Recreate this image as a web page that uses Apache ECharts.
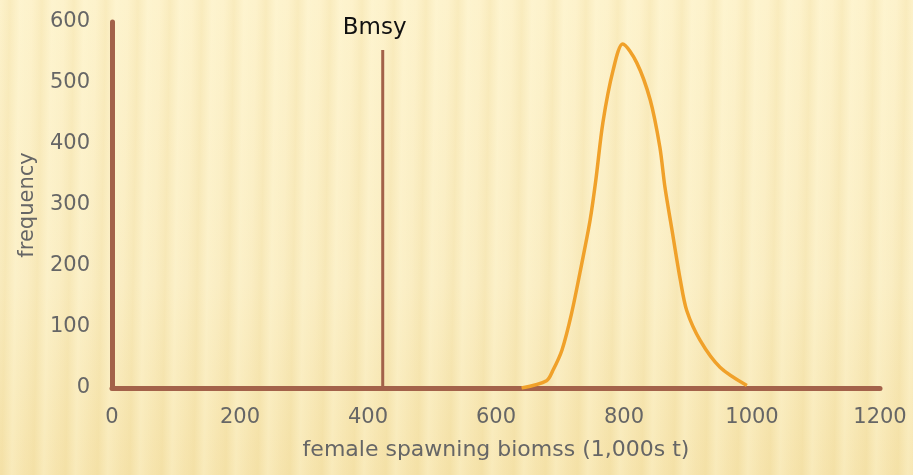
<!DOCTYPE html>
<html>
<head>
<meta charset="utf-8">
<script src="https://cdn.jsdelivr.net/npm/echarts@6/dist/echarts.min.js"></script>
<style>
  html, body { margin: 0; padding: 0; }
  body {
    width: 913px; height: 475px; overflow: hidden;
    background-color: #fbedbf;
    background-image:
      repeating-linear-gradient(91deg,
        rgba(236,212,140,0.00) 0px,
        rgba(236,212,140,0.22) 10px,
        rgba(255,248,215,0.30) 20px,
        rgba(236,212,140,0.00) 32px),
      linear-gradient(180deg, #fdf2cb 0%, #faedc2 60%, #f6e4ad 100%);
  }
  #chart { width: 913px; height: 475px; }
</style>
</head>
<body>
<div id="chart"></div>
<script>
// Simulated distribution of female spawning biomass
const biomass   = [640, 679, 689, 703, 718, 734, 747, 756, 767, 783, 798, 820, 841, 856, 864, 875, 888, 898, 919, 950, 992];
const frequency = [0,   12,  29,  62,  122, 204, 275, 341, 435, 521, 564, 533, 472, 395, 329, 259, 177, 127, 78,  34,  4];

// Reference point
const bmsyValue = 423;
const bmsyTop = 554;
const bmsyLabel = 'Bmsy';

const xTicks = { min: 0, max: 1200, interval: 200 };
const yTicks = { min: 0, max: 600, interval: 100 };

const axisColor = '#a3624a';
const textColor = '#666666';
const fontFamily = '"DejaVu Sans", sans-serif';

const chart = echarts.init(document.getElementById('chart'), null, { renderer: 'canvas' });

chart.setOption({
  backgroundColor: 'transparent',
  animation: false,
  grid: { left: 112, right: 33, top: 22, bottom: 87 },
  xAxis: {
    type: 'value',
    min: xTicks.min, max: xTicks.max, interval: xTicks.interval,
    name: 'female spawning biomss (1,000s t)',
    nameLocation: 'middle',
    nameGap: 51,
    nameTextStyle: { color: textColor, fontSize: 22, fontFamily },
    axisLine: { show: true, lineStyle: { color: axisColor, width: 5 } },
    axisTick: { show: false },
    splitLine: { show: false },
    axisLabel: { color: textColor, fontSize: 21, fontFamily, margin: 19, formatter: v => String(v) }
  },
  yAxis: {
    type: 'value',
    min: yTicks.min, max: yTicks.max, interval: yTicks.interval,
    name: 'frequency',
    nameLocation: 'middle',
    nameGap: 74,
    nameRotate: 90,
    nameTextStyle: { color: textColor, fontSize: 21, fontFamily },
    axisLine: { show: true, lineStyle: { color: axisColor, width: 5 } },
    axisTick: { show: false },
    splitLine: { show: false },
    axisLabel: { color: textColor, fontSize: 21, fontFamily, margin: 22, formatter: v => String(v) }
  },
  series: [
    {
      type: 'line',
      data: biomass.map((b, i) => [b, frequency[i]]),
      smooth: 0.3,
      showSymbol: false,
      lineStyle: { color: '#f0a12a', width: 3.5 },
      z: 3
    },
    {
      type: 'line',
      data: [[bmsyValue, 0], [bmsyValue, bmsyTop]],
      showSymbol: false,
      symbol: 'none',
      lineStyle: { color: axisColor, width: 3 },
      label: { show: false },
      endLabel: {
        show: true,
        formatter: bmsyLabel,
        color: '#111111',
        fontSize: 23,
        fontFamily,
        distance: 0,
        offset: [-40, -22]
      },
      z: 2
    }
  ]
});
</script>
</body>
</html>
